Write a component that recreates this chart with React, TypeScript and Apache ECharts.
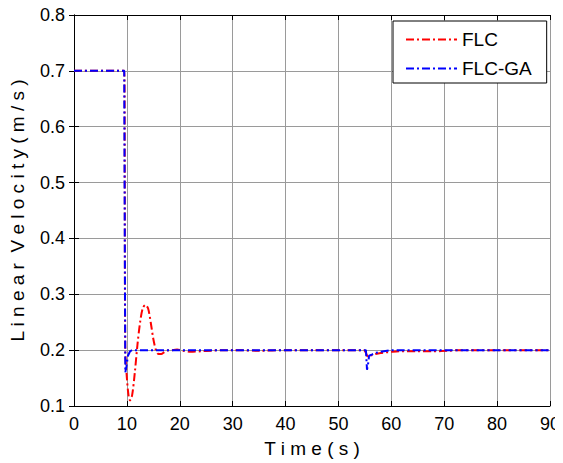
import React, { useEffect, useRef } from "react";
import * as echarts from "echarts";

const flcTime = [0, 9.5, 9.6, 9.7, 10.0, 10.3, 10.6, 11.0, 11.5, 12.0, 12.5, 13.0, 13.5, 14.0, 14.5, 15.0, 15.5, 16.0, 16.5, 17.0, 17.5, 18.5, 19.5, 20.5, 22, 24, 26, 28, 30, 35, 40, 45, 50, 54.8, 55.2, 55.6, 56, 57, 58, 59, 60, 62, 65, 68, 71, 73, 75, 80, 85, 90];
const flcValue = [0.7, 0.7, 0.5, 0.2, 0.15, 0.12, 0.11, 0.12, 0.16, 0.21, 0.25, 0.275, 0.281, 0.275, 0.25, 0.22, 0.2, 0.193, 0.193, 0.196, 0.199, 0.2, 0.201, 0.199, 0.197, 0.198, 0.199, 0.2, 0.2, 0.199, 0.2, 0.2, 0.2, 0.2, 0.195, 0.188, 0.19, 0.193, 0.195, 0.196, 0.197, 0.198, 0.198, 0.198, 0.199, 0.2, 0.2, 0.2, 0.2, 0.2];

const gaTime = [0, 9.5, 9.6, 9.7, 9.9, 10.2, 10.6, 11, 15, 20, 30, 40, 50, 55.2, 55.4, 55.6, 55.8, 56.3, 57, 58, 60, 65, 70, 80, 90];
const gaValue = [0.7, 0.7, 0.4, 0.16, 0.17, 0.19, 0.198, 0.2, 0.2, 0.2, 0.2, 0.2, 0.2, 0.2, 0.165, 0.175, 0.19, 0.192, 0.195, 0.197, 0.2, 0.2, 0.2, 0.2, 0.2];

const seriesNames = ["FLC", "FLC-GA"];
const xName = "T i m e ( s )";
const yName = "L i n e a r  V e l o c i t y ( m / s )";

const FONT = "Liberation Sans, Arial, sans-serif";
const FS = 18;
const NFS = 19;

export default function App() {
  const ref = useRef<HTMLDivElement>(null);
  useEffect(() => {
    if (!ref.current) return;
    const chart = echarts.init(ref.current, null, { renderer: "svg" });
    const zip = (t: number[], v: number[]) => t.map((x, i) => [x, v[i]]);
    const axisLine = { show: true, lineStyle: { color: "#000", width: 1 } };
    const tick = { show: true, inside: true, length: 5, lineStyle: { color: "#000" } };
    const dash = [8, 3, 2, 3];
    chart.setOption({
      animation: false,
      backgroundColor: "#fff",
      textStyle: { fontFamily: FONT },
      grid: { left: 72, right: 11, top: 15, bottom: 57, containLabel: false },
      legend: {
        left: 393,
        top: 21,
        orient: "vertical",
        backgroundColor: "#fff",
        borderColor: "#000",
        borderWidth: 1,
        padding: [9, 15, 5, 12],
        itemGap: 10,
        itemWidth: 51,
        itemHeight: 14,
        itemStyle: { opacity: 0 },
        textStyle: { fontSize: NFS, color: "#000", fontFamily: FONT },
        data: seriesNames,
      },
      xAxis: [
        {
          type: "value",
          min: 0,
          max: 90,
          interval: 10,
          name: xName,
          nameLocation: "middle",
          nameGap: 33,
          nameTextStyle: { fontSize: NFS, color: "#000", fontFamily: FONT },
          axisLine,
          axisTick: tick,
          axisLabel: { fontSize: FS, color: "#000", margin: 9, fontFamily: FONT },
          splitLine: { show: true, lineStyle: { color: "#9a9a9a", width: 1 } },
        },
        {
          type: "value",
          position: "top",
          min: 0,
          max: 90,
          interval: 10,
          axisLine,
          axisTick: tick,
          axisLabel: { show: false },
          splitLine: { show: false },
        },
      ],
      yAxis: [
        {
          type: "value",
          min: 0.1,
          max: 0.8,
          interval: 0.1,
          name: yName,
          nameLocation: "middle",
          nameGap: 47,
          nameTextStyle: { fontSize: NFS, color: "#000", fontFamily: FONT },
          axisLine,
          axisTick: tick,
          axisLabel: { fontSize: FS, color: "#000", margin: 9, fontFamily: FONT, formatter: (v: number) => v.toFixed(1) },
          splitLine: { show: true, lineStyle: { color: "#9a9a9a", width: 1 } },
        },
        {
          type: "value",
          position: "right",
          min: 0.1,
          max: 0.8,
          interval: 0.1,
          axisLine,
          axisTick: tick,
          axisLabel: { show: false },
          splitLine: { show: false },
        },
      ],
      series: [
        {
          name: seriesNames[0],
          type: "line",
          data: zip(flcTime, flcValue),
          showSymbol: false,
          symbol: "none",
          smooth: 0.3,
          color: "#ff0000",
          lineStyle: { color: "#ff0000", width: 2, type: dash },
          z: 3,
        },
        {
          name: seriesNames[1],
          type: "line",
          data: zip(gaTime, gaValue),
          showSymbol: false,
          symbol: "none",
          color: "#0000ff",
          lineStyle: { color: "#0000ff", width: 2, type: dash },
          z: 4,
        },
      ],
    });
    return () => chart.dispose();
  }, []);
  return <div ref={ref} style={{ width: 563, height: 463, marginLeft: -8, marginTop: -8 }} />;
}
